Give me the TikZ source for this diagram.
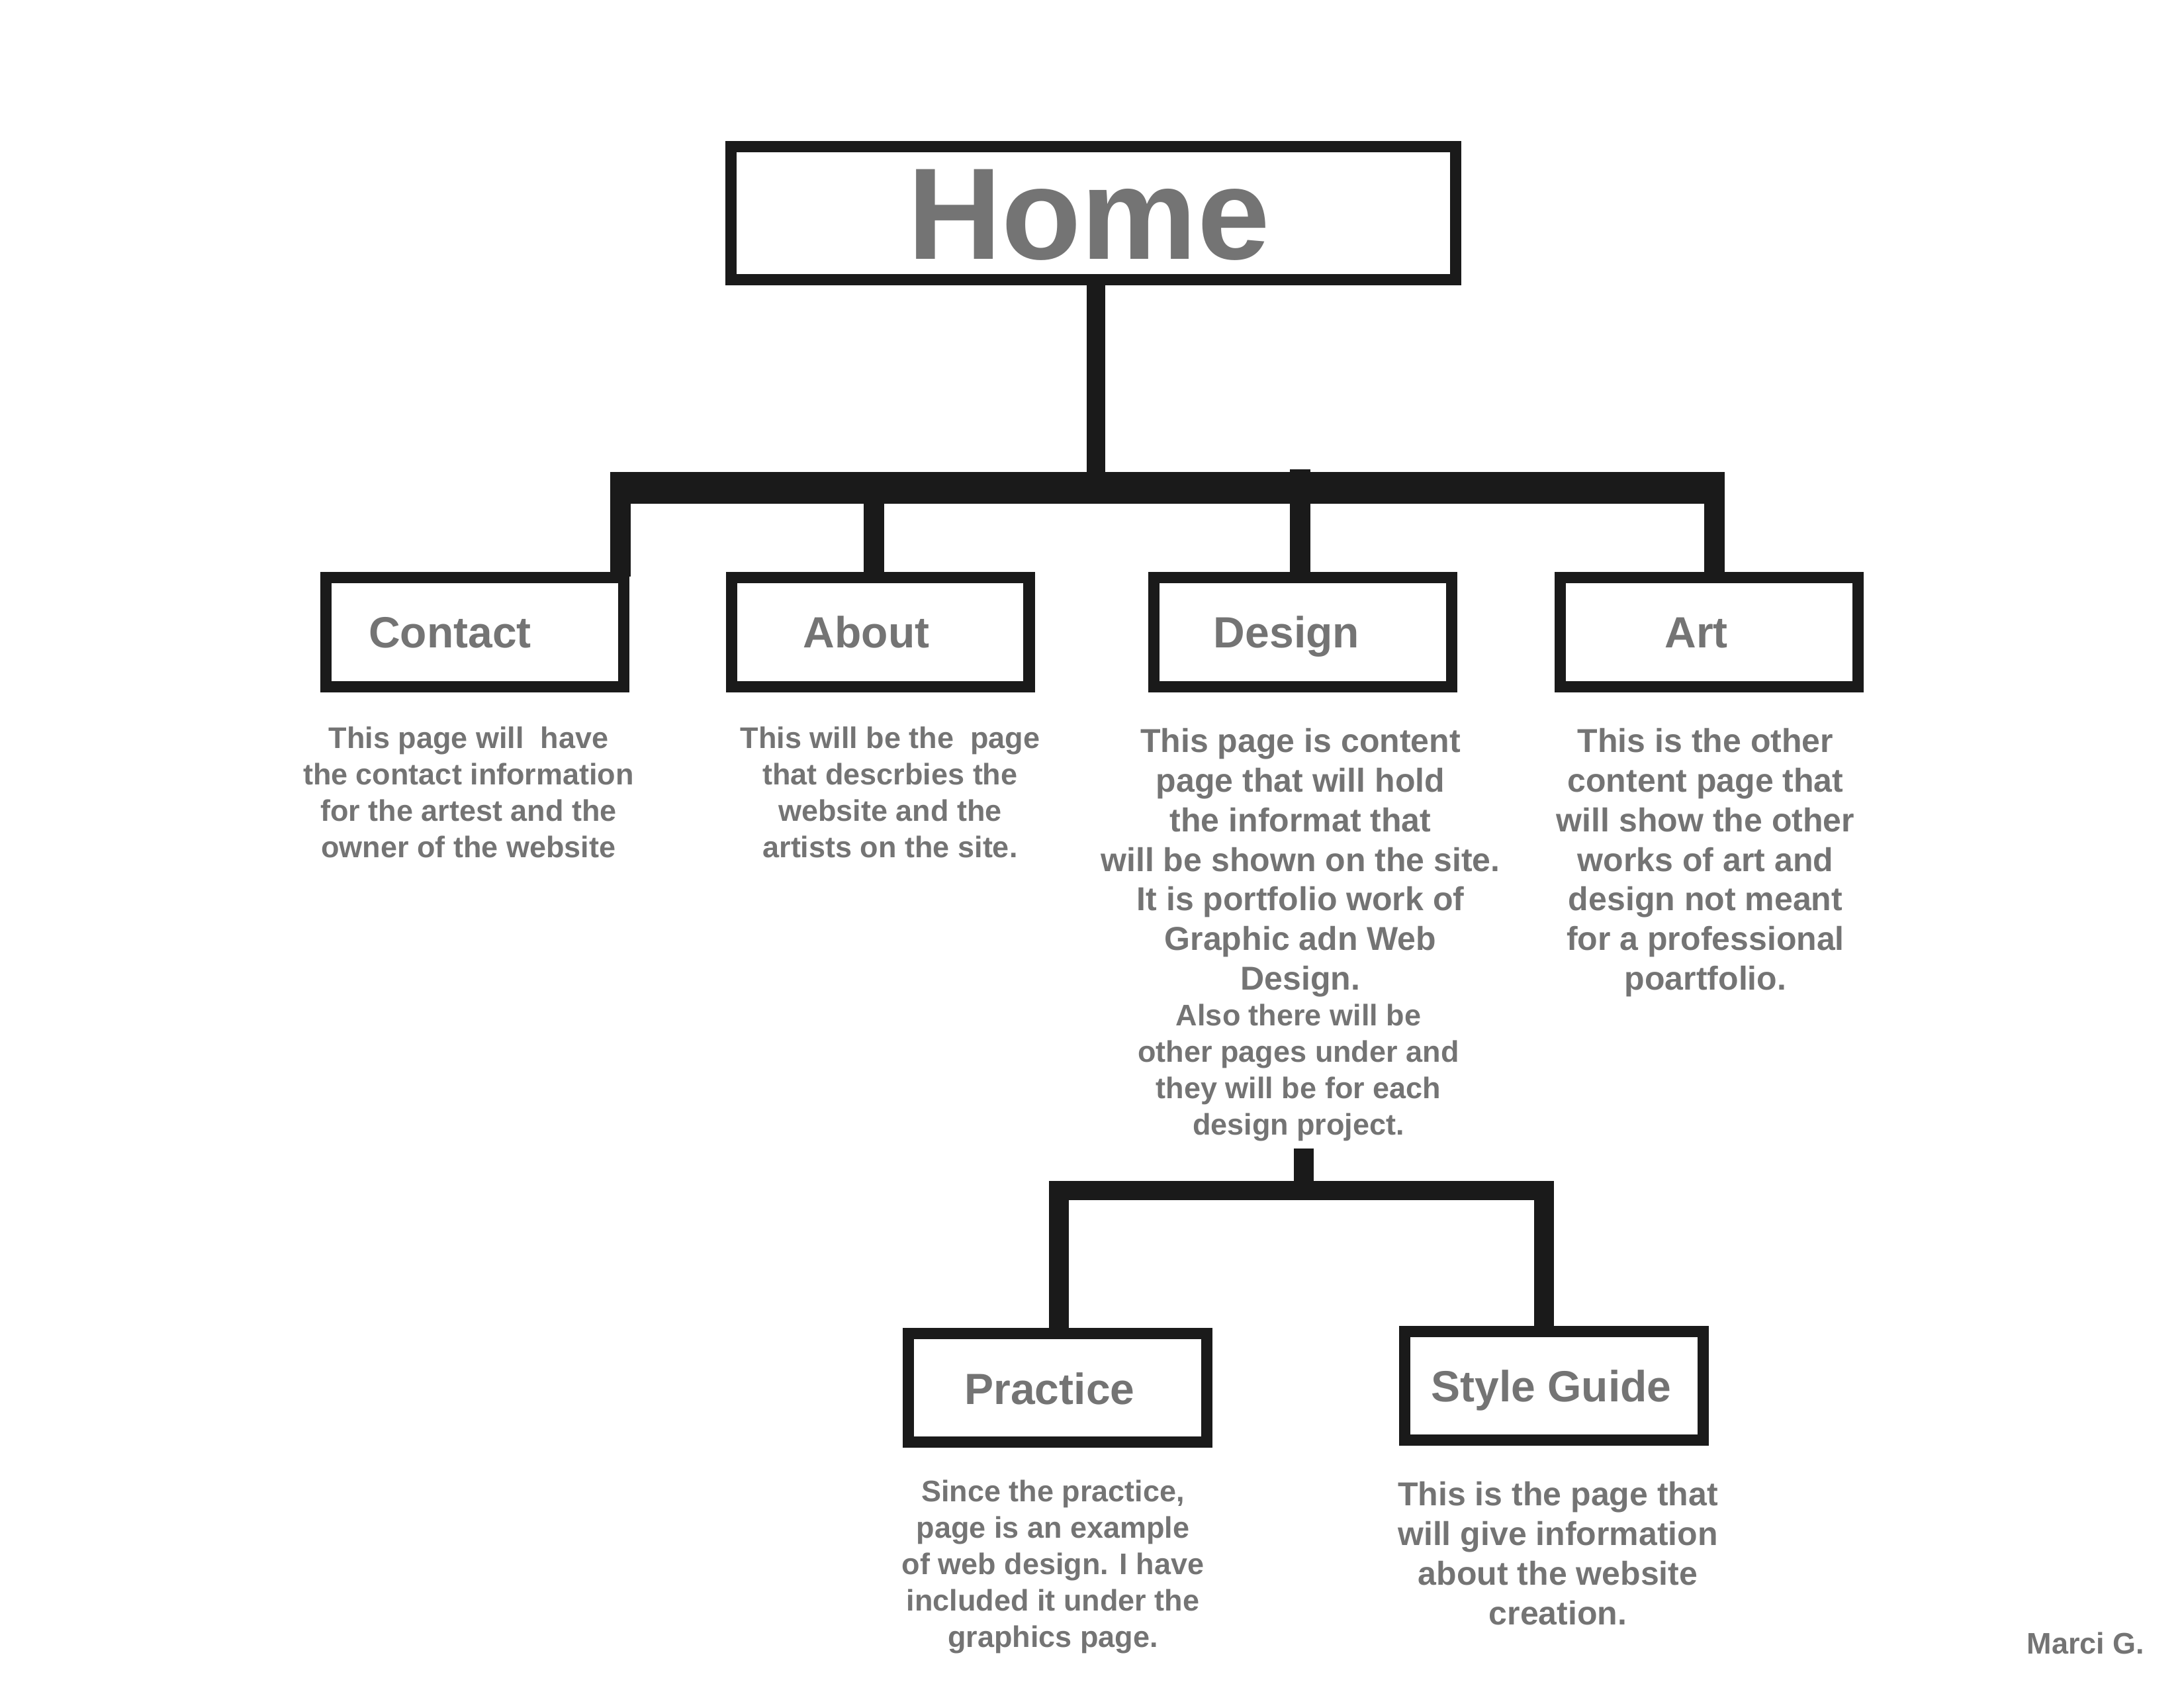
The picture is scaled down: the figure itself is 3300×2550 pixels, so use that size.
\documentclass[tikz,border=0pt]{standalone}
\usepackage{fontspec}
\setmainfont{Liberation Sans}
\usetikzlibrary{calc}
\definecolor{ink}{HTML}{1A1A1A}
\definecolor{txt}{HTML}{747474}
\newcommand\fsz[2]{\fontsize{#1}{#2}\selectfont}
\begin{document}
\begin{tikzpicture}[x=0.2409pt,y=-0.2409pt,
  box/.style={draw=ink, line width=4.1pt, inner sep=0pt},
  lbl/.style={text=txt, font=\bfseries\fsz{15.9pt}{19pt}, inner sep=0pt, anchor=base},
  homelbl/.style={text=txt, font=\bfseries\fsz{47.46pt}{57pt}, inner sep=0pt, anchor=base},
  descL/.style={text=txt, font=\bfseries\fsz{12.05pt}{14.45pt}, align=center, inner sep=0pt, anchor=north},
  descS/.style={text=txt, font=\bfseries\fsz{10.84pt}{13.25pt}, align=center, inner sep=0pt, anchor=north},
  stemline/.style={draw=ink, line width=6.75pt},
  busline/.style={draw=ink, line width=11.56pt},
  dropline/.style={draw=ink, line width=7.47pt},
  subdrop/.style={draw=ink, line width=7.23pt},
  subbus/.style={draw=ink, line width=6.99pt},
]
\useasboundingbox (0,0) rectangle (3300,2550);

% boxes
\node[box, minimum width=263.79pt, minimum height=48.42pt] (home) at (1652,322) {};
\node[box, minimum width=108.4pt, minimum height=39.75pt] (contact) at (717.5,955) {};
\node[box, minimum width=108.4pt, minimum height=39.75pt] (about) at (1330,955) {};
\node[box, minimum width=108.4pt, minimum height=39.75pt] (design) at (1968.5,955) {};
\node[box, minimum width=108.4pt, minimum height=39.75pt] (art) at (2582.5,955) {};
\node[box, minimum width=108.6pt, minimum height=39.5pt] (practice) at (1598,2096.5) {};
\node[box, minimum width=108.6pt, minimum height=39.5pt] (style) at (2348,2093.5) {};

% labels
\node[homelbl] (homet) at (1645,392) {Home};
\node[lbl] (contactt) at (680,979) {Contact};
\node[lbl] (aboutt) at (1309,979) {About};
\node[lbl] (designt) at (1944,979) {Design};
\node[lbl] (artt) at (2563,979) {Art};
\node[lbl] (practicet) at (1586,2121) {Practice};
\node[lbl] (stylet) at (2344,2117) {Style Guide};

% main tree connectors
\coordinate (busL) at (922,737);
\coordinate (busR) at (2606,737);
\draw[stemline] ([xshift=0.96pt]home.south) -- +(0,306);
\draw[busline] (busL) -- (busR);
\draw[dropline] ([xshift=53.0pt,yshift=-1.7pt]contact.north) -- +(0,-134);
\draw[dropline] ([xshift=-2.29pt]about.north) -- +(0,-127);
\draw[dropline] ([xshift=-0.96pt]design.north) -- +(0,-155);
\draw[dropline] ([xshift=1.93pt]art.north) -- +(0,-127);

% sub tree connectors
\coordinate (subtop) at (1970,1735);
\coordinate (subL) at (1585,1798.5);
\coordinate (subR) at (2348,1798.5);
\draw[subdrop] (subtop) -- (subtop |- subL);
\draw[subbus] (subL) -- (subR);
\draw[subdrop] ([xshift=0.48pt]practice.north) -- +(0,-207.5);
\draw[subdrop] ([xshift=-3.61pt]style.north) -- +(0,-204.5);

% descriptions
\node[descS] (contactdesc) at (708,1097) {This page will~ have\\the contact information\\for the artest and the\\owner of the website};
\node[descS] (aboutdesc) at (1345,1097) {This will be the~ page\\that descrbies the\\website and the\\artists on the site.};
\node[descL] (designdescA) at (1965,1099) {This page is content\\page that will hold\\the informat that\\will be shown on the site.\\It is portfolio work of\\Graphic adn Web\\Design.};
\node[descS] (designdescB) at (1962,1516) {Also there will be\\other pages under and\\they will be for each\\design project.};
\node[descL] (artdesc) at (2577,1099) {This is the other\\content page that\\will show the other\\works of art and\\design not meant\\for a professional\\poartfolio.};
\node[descS] (practicedesc) at (1591,2235) {Since the practice,\\page is an example\\of web design. I have\\included it under the\\graphics page.};
\node[descL] (styledesc) at (2354,2237) {This is the page that\\will give information\\about the website\\creation.};
\node[descS, anchor=base east] (sig) at (3241,2498) {Marci G.};
\end{tikzpicture}
\end{document}
